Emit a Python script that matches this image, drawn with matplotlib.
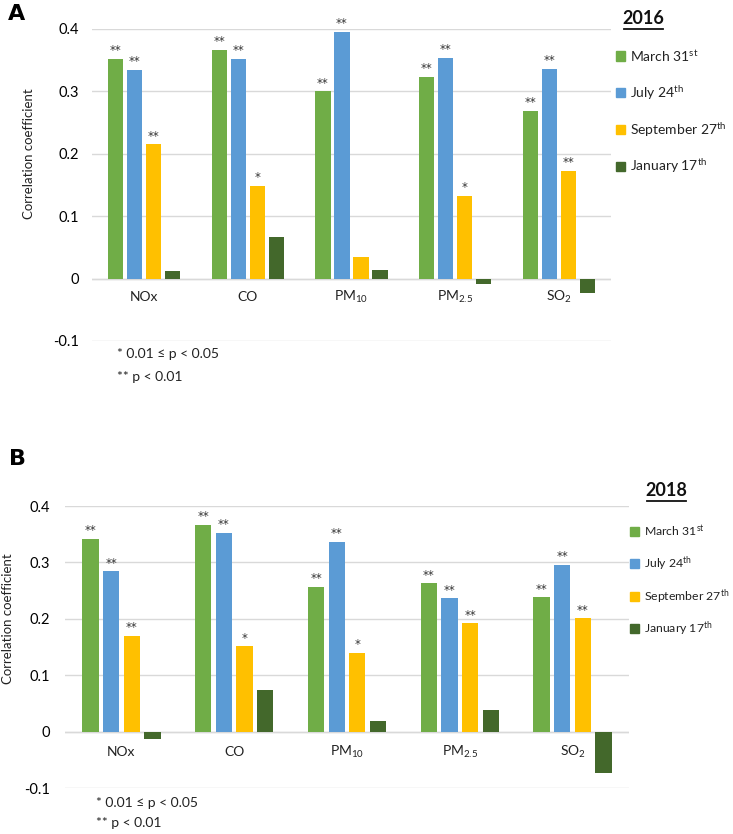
import matplotlib.pyplot as plt
import numpy as np

plt.rcParams['font.family'] = ['Lato', 'DejaVu Sans']
plt.rcParams['mathtext.fontset'] = 'custom'
plt.rcParams['mathtext.rm'] = 'Lato'
plt.rcParams['mathtext.it'] = 'Lato:italic'
plt.rcParams['mathtext.bf'] = 'Lato:bold'

pollutants = ['NOx', 'CO', r'PM$\mathregular{_{10}}$', r'PM$\mathregular{_{2.5}}$',
              r'SO$\mathregular{_2}$']
dates = [r'March 31$\mathregular{^{st}}$', r'July 24$\mathregular{^{th}}$',
         r'September 27$\mathregular{^{th}}$', r'January 17$\mathregular{^{th}}$']
colors = ['#70AD47', '#5B9BD5', '#FFC000', '#43682B']

# 2016 correlation coefficients, one list per date
mar_2016 = [0.352, 0.366, 0.300, 0.323, 0.269]
jul_2016 = [0.335, 0.352, 0.395, 0.354, 0.336]
sep_2016 = [0.215, 0.149, 0.035, 0.133, 0.172]
jan_2016 = [0.012, 0.067, 0.013, -0.009, -0.023]
sig_2016 = [['**', '**', '**', '**', '**'],
            ['**', '**', '**', '**', '**'],
            ['**', '*', '', '*', '**'],
            ['', '', '', '', '']]

# 2018 correlation coefficients
mar_2018 = [0.342, 0.367, 0.257, 0.263, 0.238]
jul_2018 = [0.284, 0.353, 0.337, 0.236, 0.296]
sep_2018 = [0.170, 0.151, 0.140, 0.192, 0.201]
jan_2018 = [-0.014, 0.074, 0.018, 0.038, -0.073]
sig_2018 = [['**', '**', '**', '**', '**'],
            ['**', '**', '**', '**', '**'],
            ['**', '*', '*', '**', '**'],
            ['', '', '', '', '']]

yticks = [-0.1, 0, 0.1, 0.2, 0.3, 0.4]
ytick_labels = ['-0.1', '0', '0.1', '0.2', '0.3', '0.4']

W, H = 733, 834


def plot_panel(fig, rect, series, sig, year, letter, letter_xy, ylabel_x,
               cat_y, tick_pad, leg_title_xy, leg_x, leg_y0, leg_dy, leg_fs,
               note_xy, note_dy):
    '''
    Draw one grouped bar panel with its legend and footnote (figure coords)
    '''
    ax = fig.add_axes(rect)
    x = np.arange(len(pollutants))
    width = 0.145
    pitch = 0.183
    for i, vals in enumerate(series):
        pos = x + (i - 1.5) * pitch
        ax.bar(pos, vals, width, color=colors[i], zorder=3)
        for p, v, s in zip(pos, vals, sig[i]):
            if s:
                ax.text(p, v + 0.003, s, ha='center', va='bottom',
                        fontsize=8.5, color='#333333',
                        family=['DejaVu Sans'])
    ax.set_xlim(-0.5, len(pollutants) - 0.5)
    ax.set_ylim(-0.1, 0.4)
    ax.set_yticks(yticks)
    ax.set_yticklabels(ytick_labels, fontsize=10.5)
    ax.yaxis.grid(True, color='#D9D9D9', linewidth=1, zorder=0)
    ax.set_xticks([])
    ax.tick_params(axis='y', length=0, pad=tick_pad)
    for sp in ax.spines.values():
        sp.set_visible(False)
    ax.axhline(0, color='#D9D9D9', linewidth=1, zorder=2)
    for xi, name in zip(x, pollutants):
        ax.text(xi, cat_y, name, ha='center', va='center', fontsize=10,
                color='#222222')

    # y label
    b, h = rect[1], rect[3]
    fig.text(ylabel_x, b + h * 0.6, 'Correlation coefficient', rotation=90,
             ha='center', va='center', fontsize=9.5, color='#222222')

    # panel letter
    fig.text(letter_xy[0], letter_xy[1], letter, fontsize=16,
             fontweight='bold', family=['DejaVu Sans'], ha='left', va='center')

    # legend title, underlined by hand
    tx, ty = leg_title_xy
    fig.text(tx, ty, year, fontsize=13, fontweight='bold', ha='center',
             va='center', color='#111111')
    fig.add_artist(plt.Line2D([tx - 19.5 / W, tx + 19.5 / W],
                              [ty - 10 / H, ty - 10 / H],
                              transform=fig.transFigure, color='#111111',
                              linewidth=1.3))
    for i, d in enumerate(dates):
        yy = leg_y0 - i * leg_dy
        fig.add_artist(plt.Rectangle((leg_x, yy - 4.5 / H), 9 / W, 9 / H,
                                     transform=fig.transFigure,
                                     color=colors[i]))
        fig.text(leg_x + 14 / W, yy, d, fontsize=leg_fs, ha='left',
                 va='center', color='#222222')

    # footnote
    fig.text(note_xy[0], note_xy[1], '* 0.01 \u2264 p < 0.05', fontsize=10,
             ha='left', va='center', color='#222222')
    fig.text(note_xy[0], note_xy[1] - note_dy, '** p < 0.01', fontsize=10,
             ha='left', va='center', color='#222222')
    return ax


fig = plt.figure(figsize=(W / 100, H / 100), dpi=100)

plot_panel(fig, [92 / W, 1 - 341 / H, 519 / W, 312 / H],
           [mar_2016, jul_2016, sep_2016, jan_2016], sig_2016, '2016', 'A',
           (8 / W, 1 - 14 / H), 29 / W, -0.03, 9.5,
           (643 / W, 1 - 19 / H), 616 / W, 1 - 56 / H, 36.8 / H, 10,
           (117 / W, 1 - 354 / H), 23 / H)

plot_panel(fig, [65 / W, 1 - 788 / H, 564 / W, 282 / H],
           [mar_2018, jul_2018, sep_2018, jan_2018], sig_2018, '2018', 'B',
           (9 / W, 1 - 459 / H), 8 / W, -0.036, 11,
           (666 / W, 1 - 491 / H), 630 / W, 1 - 531 / H, 32.5 / H, 8.8,
           (96 / W, 1 - 803 / H), 20 / H)

fig.savefig('out.png', dpi=100)
